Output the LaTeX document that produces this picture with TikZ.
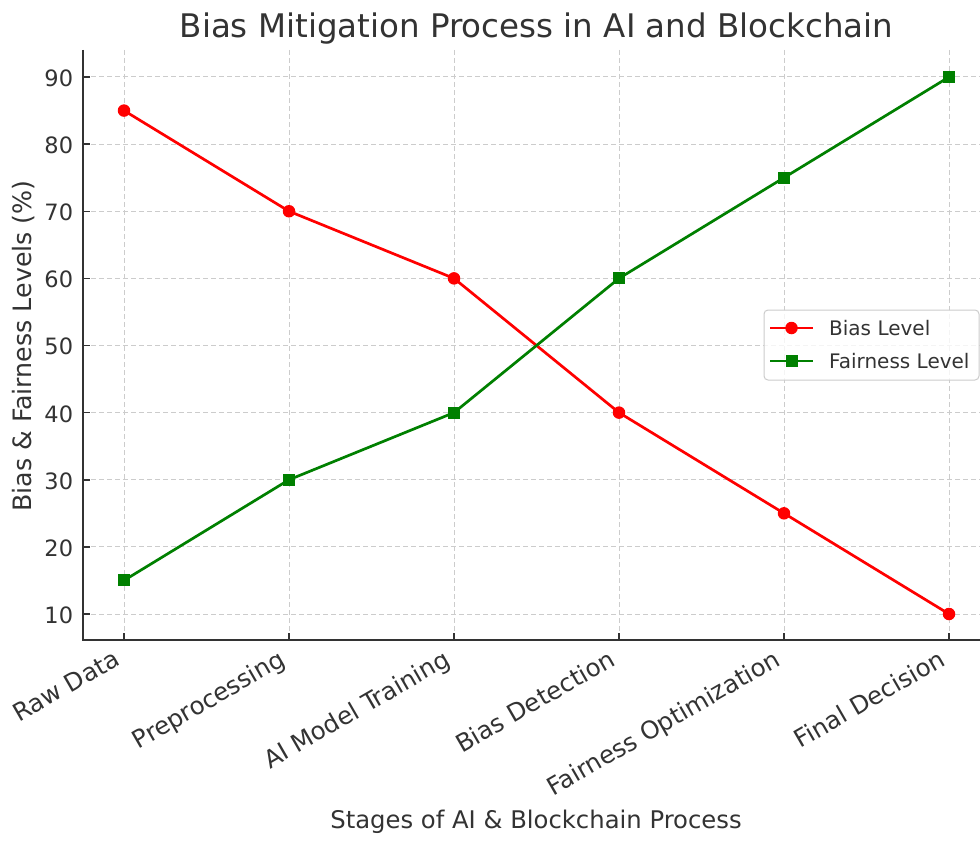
\documentclass[tikz,border=0pt]{standalone}
\usepackage{fontspec}
\setmainfont{DejaVu Sans}
\definecolor{txt}{HTML}{333333}
\definecolor{spine}{HTML}{333333}
\definecolor{gridc}{HTML}{CCCCCC}
\definecolor{biasred}{HTML}{FF0000}
\definecolor{fairgreen}{HTML}{008000}
\tikzset{
  gridline/.style={draw=gridc, line width=1pt, dash pattern=on 5pt off 3pt},
  spineline/.style={draw=spine, line width=1.8pt},
  tickline/.style={draw=spine, line width=1.5pt},
  ylab/.style={anchor=east, inner sep=0pt, text=txt, font=\fontsize{22.5}{26}\selectfont},
  xlab/.style={anchor=north east, inner sep=0pt, rotate=30, text=txt, font=\fontsize{24.5}{28}\selectfont},
  biasline/.style={draw=biasred, line width=2.7pt, line join=round},
  fairline/.style={draw=fairgreen, line width=2.7pt, line join=round},
  biasdot/.style={circle, fill=biasred, minimum size=12.5pt, inner sep=0pt},
  fairsq/.style={rectangle, fill=fairgreen, minimum size=12pt, inner sep=0pt},
  legtext/.style={anchor=west, inner sep=0pt, text=txt, font=\fontsize{20}{24}\selectfont},
}
\begin{document}
\begin{tikzpicture}[x=1pt, y=-1pt]
\useasboundingbox (0,0) rectangle (980,843);
\fill[white] (0,0) rectangle (980,843);

% grid: vertical lines at the stages, horizontal lines at the value ticks
\foreach \gx in {124,289,454,619,784,949}
  \draw[gridline] (\gx,50) -- (\gx,640);
\foreach \gy in {614,546.875,479.75,412.625,345.5,278.375,211.25,144.125,77}
  \draw[gridline] (83,\gy) -- (980,\gy);

% axis spines
\coordinate (origin) at (83,640);
\coordinate (ytop) at (83,50);
\coordinate (xend) at (980,640);
\draw[spineline] (ytop) -- (origin) -- (xend);

% inward ticks and value labels
\foreach \v/\gy in {10/614,20/546.875,30/479.75,40/412.625,50/345.5,60/278.375,70/211.25,80/144.125,90/77} {
  \draw[tickline] (83,\gy) -- (90,\gy);
  \node[ylab] (yt\v) at (73.3,\gy+1.2) {\v};
}
\foreach \gx in {124,289,454,619,784,949}
  \draw[tickline] (\gx,640) -- (\gx,633);

% stage labels
\node[xlab] (s0) at (112.5,648) {Raw Data};
\node[xlab] (s1) at (277.5,648) {Preprocessing};
\node[xlab] (s2) at (442.5,648) {AI Model Training};
\node[xlab] (s3) at (607.5,648) {Bias Detection};
\node[xlab] (s4) at (772.5,648) {Fairness Optimization};
\node[xlab] (s5) at (937.5,648) {Final Decision};

% axis titles and chart title
\node[anchor=base, inner sep=0pt, text=txt, font=\fontsize{24.3}{28}\selectfont] (xtitle) at (536,828.5) {Stages of AI \& Blockchain Process};
\node[anchor=base, inner sep=0pt, text=txt, rotate=90, font=\fontsize{25.3}{29}\selectfont] (ytitle) at (31.7,346) {Bias \& Fairness Levels (\%)};
\node[anchor=base, inner sep=0pt, text=txt, font=\fontsize{32.5}{38}\selectfont] (title) at (536.5,37.3) {Bias Mitigation Process in AI and Blockchain};

% data points
\coordinate (b0) at (124,110.5625);
\coordinate (b1) at (289,211.25);
\coordinate (b2) at (454,278.375);
\coordinate (b3) at (619,412.625);
\coordinate (b4) at (784,513.3125);
\coordinate (b5) at (949,614);
\coordinate (f0) at (124,580.4375);
\coordinate (f1) at (289,479.75);
\coordinate (f2) at (454,412.625);
\coordinate (f3) at (619,278.375);
\coordinate (f4) at (784,177.6875);
\coordinate (f5) at (949,77);

\draw[biasline] (b0) -- (b1) -- (b2) -- (b3) -- (b4) -- (b5);
\draw[fairline] (f0) -- (f1) -- (f2) -- (f3) -- (f4) -- (f5);
\foreach \i in {0,...,5} {
  \node[biasdot] (bm\i) at (b\i) {};
  \node[fairsq] (fm\i) at (f\i) {};
}

% legend
\node[draw=gridc, fill=white, fill opacity=0.8, draw opacity=1, line width=1pt, rounded corners=4pt,
      minimum width=215pt, minimum height=70pt, inner sep=0pt] (legend) at (871.5,345) {};
\coordinate (lb1) at (770,328);
\coordinate (lb2) at (813,328);
\coordinate (lf1) at (770,361);
\coordinate (lf2) at (813,361);
\draw[biasline] (lb1) -- (lb2);
\node[biasdot] (lbm) at (791.5,328) {};
\draw[fairline] (lf1) -- (lf2);
\node[fairsq] (lfm) at (791.5,361) {};
\node[legtext] (lbt) at (829,328) {Bias Level};
\node[legtext] (lft) at (829,361) {Fairness Level};
\end{tikzpicture}
\end{document}
